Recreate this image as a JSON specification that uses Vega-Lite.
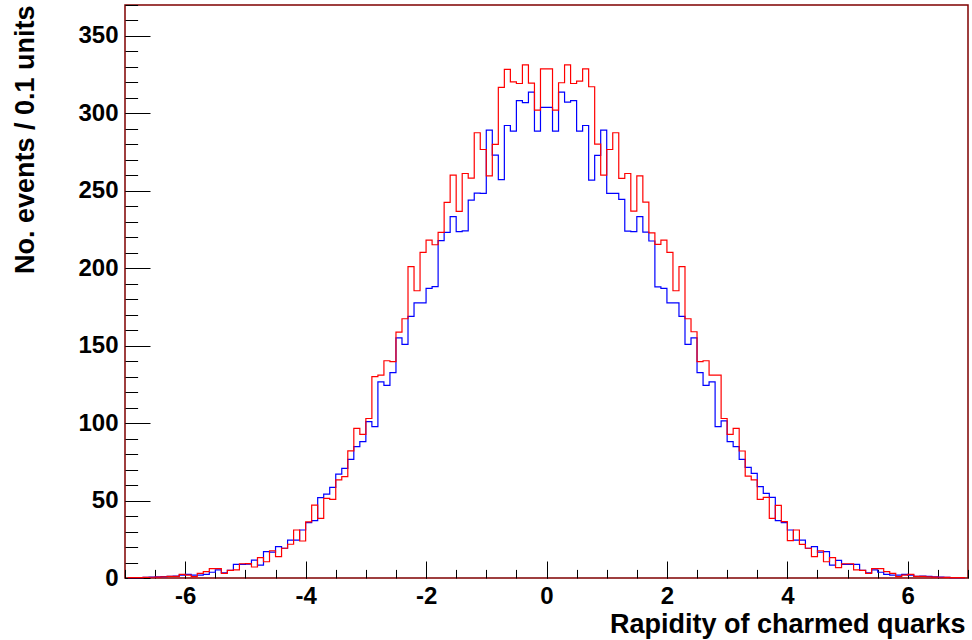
{
  "$schema": "https://vega.github.io/schema/vega-lite/v6.json",
  "width": 843,
  "height": 573,
  "padding": {"left": 125, "top": 5, "right": 4, "bottom": 62},
  "autosize": {"type": "none"},
  "background": "white",
  "config": {
    "view": {"stroke": "#7f0000", "strokeWidth": 1.5},
    "axis": {
      "domain": false,
      "grid": false,
      "tickColor": "#000000",
      "tickWidth": 1,
      "labelFont": "Liberation Sans",
      "labelFontWeight": "bold",
      "labelColor": "#000000",
      "titleFont": "Liberation Sans",
      "titleFontWeight": "bold",
      "titleColor": "#000000",
      "labelOverlap": false
    }
  },
  "data": {
    "values": [
      {"x": -6.95, "r": 0.2, "b": 0.2},
      {"x": -6.85, "r": 0.3, "b": 0.3},
      {"x": -6.75, "r": 0.3, "b": 0.3},
      {"x": -6.65, "r": 0.4, "b": 0.4},
      {"x": -6.55, "r": 0.5, "b": 0.6},
      {"x": -6.45, "r": 0.6, "b": 0.7},
      {"x": -6.35, "r": 0.8, "b": 0.9},
      {"x": -6.25, "r": 1.0, "b": 1.1},
      {"x": -6.15, "r": 1.1, "b": 1.2},
      {"x": -6.05, "r": 2.4, "b": 1.9},
      {"x": -5.95, "r": 1.9, "b": 2.4},
      {"x": -5.85, "r": 0.9, "b": 1.9},
      {"x": -5.75, "r": 3.0, "b": 1.9},
      {"x": -5.65, "r": 4.1, "b": 2.4},
      {"x": -5.55, "r": 6.0, "b": 3.7},
      {"x": -5.45, "r": 6.0, "b": 5.2},
      {"x": -5.35, "r": 3.0, "b": 3.4},
      {"x": -5.25, "r": 4.9, "b": 4.9},
      {"x": -5.15, "r": 5.2, "b": 8.8},
      {"x": -5.05, "r": 9.2, "b": 8.8},
      {"x": -4.95, "r": 9.3, "b": 8.9},
      {"x": -4.85, "r": 7.1, "b": 11.6},
      {"x": -4.75, "r": 13.2, "b": 8.3},
      {"x": -4.65, "r": 10.5, "b": 17.0},
      {"x": -4.55, "r": 17.6, "b": 16.7},
      {"x": -4.45, "r": 13.8, "b": 20.2},
      {"x": -4.35, "r": 19.2, "b": 19.2},
      {"x": -4.25, "r": 21.8, "b": 24.5},
      {"x": -4.15, "r": 31.0, "b": 24.5},
      {"x": -4.05, "r": 23.9, "b": 31.0},
      {"x": -3.95, "r": 36.3, "b": 35.7},
      {"x": -3.85, "r": 47.0, "b": 37.0},
      {"x": -3.75, "r": 38.5, "b": 51.9},
      {"x": -3.65, "r": 51.4, "b": 54.2},
      {"x": -3.55, "r": 50.8, "b": 58.5},
      {"x": -3.45, "r": 63.3, "b": 67.1},
      {"x": -3.35, "r": 65.4, "b": 70.8},
      {"x": -3.25, "r": 82.1, "b": 76.6},
      {"x": -3.15, "r": 96.6, "b": 84.8},
      {"x": -3.05, "r": 92.8, "b": 88.0},
      {"x": -2.95, "r": 103.0, "b": 101.0},
      {"x": -2.85, "r": 130.0, "b": 97.7},
      {"x": -2.75, "r": 131.0, "b": 126.7},
      {"x": -2.65, "r": 140.3, "b": 124.4},
      {"x": -2.55, "r": 139.7, "b": 132.6},
      {"x": -2.45, "r": 158.8, "b": 155.0},
      {"x": -2.35, "r": 167.4, "b": 150.8},
      {"x": -2.25, "r": 201.0, "b": 169.0},
      {"x": -2.15, "r": 185.5, "b": 177.7},
      {"x": -2.05, "r": 210.2, "b": 177.7},
      {"x": -1.95, "r": 218.2, "b": 187.0},
      {"x": -1.85, "r": 215.2, "b": 188.1},
      {"x": -1.75, "r": 223.2, "b": 217.8},
      {"x": -1.65, "r": 242.5, "b": 223.2},
      {"x": -1.55, "r": 260.2, "b": 233.3},
      {"x": -1.45, "r": 236.7, "b": 223.6},
      {"x": -1.35, "r": 261.2, "b": 224.2},
      {"x": -1.25, "r": 258.2, "b": 244.0},
      {"x": -1.15, "r": 287.5, "b": 248.5},
      {"x": -1.05, "r": 276.7, "b": 248.3},
      {"x": -0.95, "r": 259.7, "b": 289.2},
      {"x": -0.85, "r": 280.0, "b": 273.0},
      {"x": -0.75, "r": 316.8, "b": 257.2},
      {"x": -0.65, "r": 328.4, "b": 292.2},
      {"x": -0.55, "r": 320.4, "b": 288.6},
      {"x": -0.45, "r": 319.3, "b": 308.2},
      {"x": -0.35, "r": 331.4, "b": 307.0},
      {"x": -0.25, "r": 319.5, "b": 313.8},
      {"x": -0.15, "r": 302.1, "b": 288.6},
      {"x": -0.05, "r": 328.8, "b": 303.9},
      {"x": 0.05, "r": 328.8, "b": 303.9},
      {"x": 0.15, "r": 302.1, "b": 288.6},
      {"x": 0.25, "r": 319.8, "b": 313.8},
      {"x": 0.35, "r": 331.4, "b": 307.3},
      {"x": 0.45, "r": 319.3, "b": 308.2},
      {"x": 0.55, "r": 320.9, "b": 288.6},
      {"x": 0.65, "r": 328.8, "b": 292.2},
      {"x": 0.75, "r": 317.2, "b": 256.9},
      {"x": 0.85, "r": 280.2, "b": 272.9},
      {"x": 0.95, "r": 260.2, "b": 289.2},
      {"x": 1.05, "r": 276.7, "b": 248.3},
      {"x": 1.15, "r": 287.5, "b": 248.3},
      {"x": 1.25, "r": 258.0, "b": 244.5},
      {"x": 1.35, "r": 261.2, "b": 224.0},
      {"x": 1.45, "r": 236.9, "b": 223.6},
      {"x": 1.55, "r": 259.7, "b": 233.3},
      {"x": 1.65, "r": 242.7, "b": 223.4},
      {"x": 1.75, "r": 222.9, "b": 217.6},
      {"x": 1.85, "r": 215.4, "b": 188.0},
      {"x": 1.95, "r": 218.2, "b": 187.0},
      {"x": 2.05, "r": 210.2, "b": 177.7},
      {"x": 2.15, "r": 185.5, "b": 177.7},
      {"x": 2.25, "r": 201.0, "b": 169.0},
      {"x": 2.35, "r": 167.4, "b": 150.8},
      {"x": 2.45, "r": 159.0, "b": 155.0},
      {"x": 2.55, "r": 139.7, "b": 132.6},
      {"x": 2.65, "r": 140.3, "b": 124.4},
      {"x": 2.75, "r": 131.0, "b": 126.7},
      {"x": 2.85, "r": 131.0, "b": 97.7},
      {"x": 2.95, "r": 103.0, "b": 101.4},
      {"x": 3.05, "r": 92.7, "b": 88.0},
      {"x": 3.15, "r": 96.6, "b": 84.8},
      {"x": 3.25, "r": 82.0, "b": 76.6},
      {"x": 3.35, "r": 65.8, "b": 71.4},
      {"x": 3.45, "r": 63.3, "b": 67.6},
      {"x": 3.55, "r": 50.8, "b": 59.0},
      {"x": 3.65, "r": 52.0, "b": 54.7},
      {"x": 3.75, "r": 38.5, "b": 52.0},
      {"x": 3.85, "r": 46.9, "b": 37.0},
      {"x": 3.95, "r": 36.4, "b": 35.7},
      {"x": 4.05, "r": 24.1, "b": 31.0},
      {"x": 4.15, "r": 31.0, "b": 24.5},
      {"x": 4.25, "r": 21.7, "b": 24.5},
      {"x": 4.35, "r": 19.2, "b": 19.2},
      {"x": 4.45, "r": 13.8, "b": 20.2},
      {"x": 4.55, "r": 17.6, "b": 16.7},
      {"x": 4.65, "r": 10.5, "b": 17.0},
      {"x": 4.75, "r": 13.1, "b": 8.3},
      {"x": 4.85, "r": 6.7, "b": 11.4},
      {"x": 4.95, "r": 9.2, "b": 8.8},
      {"x": 5.05, "r": 9.2, "b": 8.8},
      {"x": 5.15, "r": 5.2, "b": 8.8},
      {"x": 5.25, "r": 4.9, "b": 4.9},
      {"x": 5.35, "r": 3.0, "b": 3.4},
      {"x": 5.45, "r": 6.0, "b": 5.2},
      {"x": 5.55, "r": 6.0, "b": 3.7},
      {"x": 5.65, "r": 4.1, "b": 2.4},
      {"x": 5.75, "r": 3.0, "b": 1.9},
      {"x": 5.85, "r": 0.9, "b": 1.9},
      {"x": 5.95, "r": 1.9, "b": 2.4},
      {"x": 6.05, "r": 2.4, "b": 1.9},
      {"x": 6.15, "r": 1.1, "b": 1.1},
      {"x": 6.25, "r": 1.0, "b": 1.2},
      {"x": 6.35, "r": 0.8, "b": 1.0},
      {"x": 6.45, "r": 0.6, "b": 0.8},
      {"x": 6.55, "r": 0.5, "b": 0.6},
      {"x": 6.65, "r": 0.4, "b": 0.5},
      {"x": 6.75, "r": 0.3, "b": 0.3},
      {"x": 6.85, "r": 0.3, "b": 0.3},
      {"x": 6.95, "r": 0.2, "b": 0.2}
    ]
  },
  "layer": [
    {
      "mark": {"type": "line", "interpolate": "step", "color": "#0000ff", "strokeWidth": 1.2},
      "encoding": {
        "x": {
          "field": "x", "type": "quantitative",
          "scale": {"domain": [-7, 7], "nice": false, "zero": false},
          "axis": {
            "orient": "bottom",
            "values": [-6, -4, -2, 0, 2, 4, 6],
            "tickSize": -17,
            "labelPadding": 23,
            "labelFontSize": 24,
            "labelExpr": "datum.value < 0 ? '-' + abs(datum.value) : '' + datum.value",
            "title": "Rapidity of charmed quarks",
            "titleFontSize": 27,
            "titleAnchor": null,
            "titleAlign": "right",
            "titleBaseline": "alphabetic",
            "titleX": 840,
            "titleY": 54
          }
        },
        "y": {
          "field": "b", "type": "quantitative",
          "scale": {"domain": [0, 370], "nice": false},
          "axis": {
            "orient": "left",
            "values": [0, 50, 100, 150, 200, 250, 300, 350],
            "tickSize": -25,
            "labelPadding": 32,
            "labelFontSize": 24,
            "title": "No. events / 0.1 units",
            "titleFontSize": 27,
            "titleAnchor": null,
            "titleAngle": -90,
            "titleAlign": "right",
            "titleBaseline": "alphabetic",
            "titleX": -92,
            "titleY": 0
          }
        }
      }
    },
    {
      "mark": {"type": "line", "interpolate": "step", "color": "#ff0000", "strokeWidth": 1.2},
      "encoding": {
        "x": {
          "field": "x", "type": "quantitative",
          "axis": {
            "orient": "bottom",
            "values": [-7, -6.5, -6, -5.5, -5, -4.5, -4, -3.5, -3, -2.5, -2, -1.5, -1, -0.5, 0, 0.5, 1, 1.5, 2, 2.5, 3, 3.5, 4, 4.5, 5, 5.5, 6, 6.5, 7],
            "tickSize": -8.6,
            "labels": false,
            "title": null
          }
        },
        "y": {
          "field": "r", "type": "quantitative",
          "axis": {
            "orient": "left",
            "values": [0, 10, 20, 30, 40, 50, 60, 70, 80, 90, 100, 110, 120, 130, 140, 150, 160, 170, 180, 190, 200, 210, 220, 230, 240, 250, 260, 270, 280, 290, 300, 310, 320, 330, 340, 350, 360, 370],
            "tickSize": -12.6,
            "labels": false,
            "title": null
          }
        }
      }
    }
  ],
  "resolve": {"axis": {"x": "independent", "y": "independent"}}
}
